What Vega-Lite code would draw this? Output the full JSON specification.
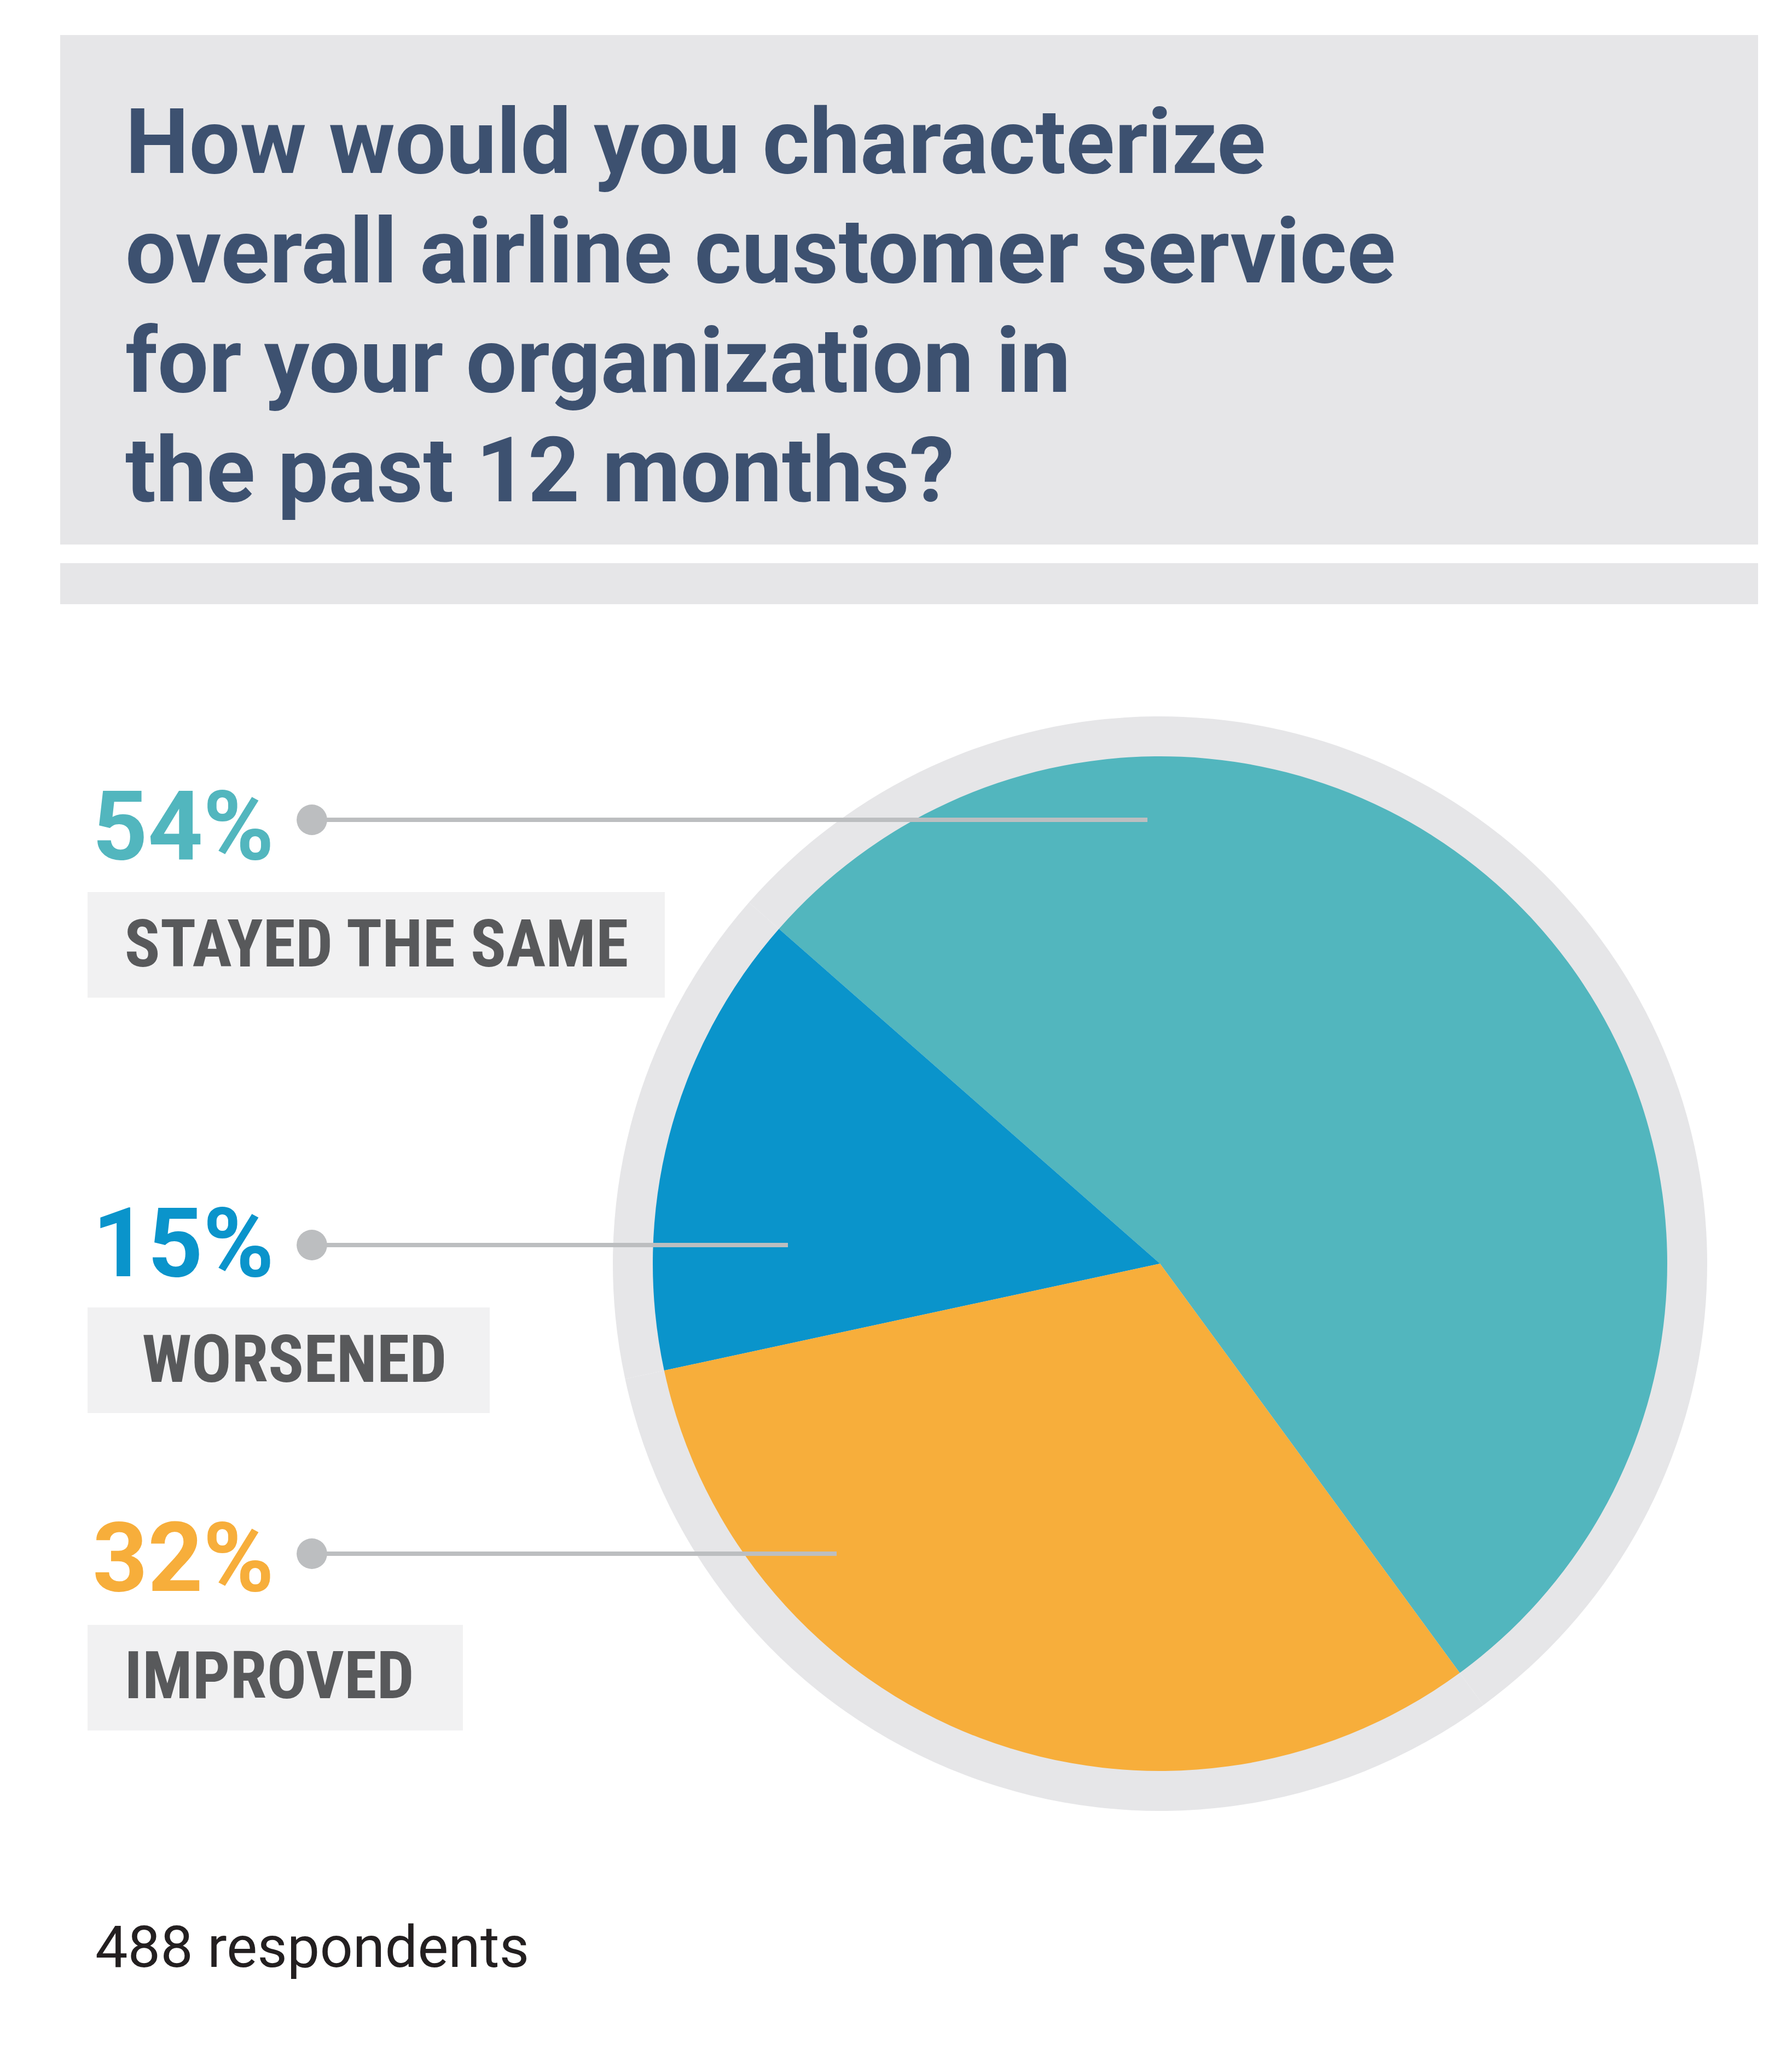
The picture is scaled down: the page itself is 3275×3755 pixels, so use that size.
{
  "$schema": "https://vega.github.io/schema/vega-lite/v6.json",
  "width": 3103,
  "height": 2892,
  "autosize": {"type": "none"},
  "padding": {"left": 110, "right": 62, "top": 863, "bottom": 0},
  "background": "#ffffff",
  "config": {"view": {"stroke": null}},
  "datasets": {
    "answers": [
      {"answer": "Stayed the same", "label": "STAYED THE SAME", "share": 0.54},
      {"answer": "Worsened", "label": "WORSENED", "share": 0.15},
      {"answer": "Improved", "label": "IMPROVED", "share": 0.32}
    ],
    "question": [
      {"line": 1, "text": "How would you characterize"},
      {"line": 2, "text": "overall airline customer service"},
      {"line": 3, "text": "for your organization in"},
      {"line": 4, "text": "the past 12 months?"}
    ],
    "sample": [{"respondents": 488, "note": "488 respondents"}]
  },
  "layer": [
    {
      "data": {"name": "question"},
      "mark": {"type": "rule", "strokeWidth": 234, "color": "#E6E6E8"},
      "encoding": {
        "y": {"field": "line", "type": "quantitative", "scale": {"domain": [1, 4], "range": [-681.9, 14.9], "nice": false, "zero": false}, "axis": null}
      }
    },
    {
      "data": {"name": "question"},
      "transform": [{"filter": {"field": "line", "equal": 4}}],
      "mark": {"type": "rule", "strokeWidth": 75, "color": "#E6E6E8"},
      "encoding": {
        "y": {"field": "line", "type": "quantitative", "scale": {"domain": [1, 4], "range": [-396.5, 203.5], "nice": false, "zero": false}, "axis": null}
      }
    },
    {
      "data": {"name": "question"},
      "mark": {"type": "text", "align": "left", "baseline": "alphabetic", "font": "Roboto, sans-serif", "fontWeight": "bold", "fontSize": 165, "color": "#3D5170"},
      "encoding": {
        "x": {"field": "line", "type": "quantitative", "scale": {"domain": [1, 4], "range": [119, 119]}, "axis": null},
        "y": {"field": "line", "type": "quantitative", "scale": {"domain": [1, 4], "range": [-547, 53], "nice": false, "zero": false}, "axis": null},
        "text": {"field": "text", "type": "nominal"}
      }
    },
    {
      "data": {"name": "answers"},
      "mark": {"type": "arc", "radius": 1000, "color": "#E6E6E8"},
      "encoding": {
        "theta": {"field": "share", "type": "quantitative", "stack": true, "scale": {"range": [5.4332, 11.7164]}},
        "order": {"field": "share", "type": "quantitative", "sort": "descending"},
        "x": {"field": "answer", "type": "nominal", "scale": {"type": "point", "range": [2010, 2010]}, "axis": null}
      }
    },
    {
      "data": {"name": "answers"},
      "mark": {"type": "arc", "radius": 927},
      "encoding": {
        "theta": {"field": "share", "type": "quantitative", "stack": true, "scale": {"range": [5.4332, 11.7164]}},
        "order": {"field": "share", "type": "quantitative", "sort": "descending"},
        "x": {"field": "answer", "type": "nominal", "scale": {"type": "point", "range": [2010, 2010]}, "axis": null},
        "color": {"field": "answer", "type": "nominal", "scale": {"domain": ["Stayed the same", "Worsened", "Improved"], "range": ["#52B6BE", "#0A94CB", "#F7AE3B"]}, "legend": null}
      }
    },
    {
      "data": {"name": "answers"},
      "mark": {"type": "rule", "strokeWidth": 193, "color": "#F1F1F2"},
      "encoding": {
        "x": {"field": "share", "type": "quantitative", "scale": {"domain": [0, 0.15, 0.32, 0.54], "range": [50, 785, 736, 1105], "nice": false, "zero": false}, "axis": null},
        "x2": {"datum": 0},
        "y": {"field": "share", "type": "quantitative", "scale": {"domain": [0.15, 0.32, 0.54], "range": [1622.5, 2202.5, 863.5], "nice": false, "zero": false}, "axis": null}
      }
    },
    {
      "data": {"name": "answers"},
      "mark": {"type": "text", "align": "center", "baseline": "alphabetic", "font": "'Roboto Condensed', 'Liberation Sans Narrow', 'DejaVu Sans Condensed', sans-serif", "fontWeight": "bold", "fontSize": 121, "color": "#58595B"},
      "encoding": {
        "x": {"field": "share", "type": "quantitative", "scale": {"domain": [0.15, 0.32, 0.54], "range": [428, 382, 578], "nice": false, "zero": false}, "axis": null},
        "y": {"field": "share", "type": "quantitative", "scale": {"domain": [0.15, 0.32, 0.54], "range": [1662, 2240, 903], "nice": false, "zero": false}, "axis": null},
        "text": {"field": "label", "type": "nominal"}
      }
    },
    {
      "data": {"name": "answers"},
      "mark": {"type": "rule", "strokeWidth": 8, "color": "#BCBEC0"},
      "encoding": {
        "x": {"field": "share", "type": "quantitative", "scale": {"domain": [0, 0.15, 0.32, 0.54], "range": [460, 1330, 1419, 1987], "nice": false, "zero": false}, "axis": null},
        "x2": {"datum": 0},
        "y": {"field": "share", "type": "quantitative", "scale": {"domain": [0.15, 0.32, 0.54], "range": [1412, 1976, 635], "nice": false, "zero": false}, "axis": null}
      }
    },
    {
      "data": {"name": "answers"},
      "mark": {"type": "circle", "size": 3117, "color": "#BCBEC0", "opacity": 1},
      "encoding": {
        "x": {"field": "share", "type": "quantitative", "scale": {"domain": [0.15, 0.54], "range": [460, 460]}, "axis": null},
        "y": {"field": "share", "type": "quantitative", "scale": {"domain": [0.15, 0.32, 0.54], "range": [1412, 1976, 635], "nice": false, "zero": false}, "axis": null}
      }
    },
    {
      "data": {"name": "answers"},
      "mark": {"type": "text", "align": "right", "baseline": "alphabetic", "font": "Roboto, sans-serif", "fontWeight": "bold", "fontSize": 176},
      "encoding": {
        "x": {"field": "share", "type": "quantitative", "scale": {"domain": [0.15, 0.54], "range": [391, 391]}, "axis": null},
        "y": {"field": "share", "type": "quantitative", "scale": {"domain": [0.15, 0.32, 0.54], "range": [1469, 2044, 707], "nice": false, "zero": false}, "axis": null},
        "text": {"field": "share", "type": "quantitative", "format": ".0%"},
        "color": {"field": "answer", "type": "nominal", "scale": {"domain": ["Stayed the same", "Worsened", "Improved"], "range": ["#52B6BE", "#0A94CB", "#F7AE3B"]}, "legend": null}
      }
    },
    {
      "data": {"name": "sample"},
      "mark": {"type": "text", "align": "left", "baseline": "alphabetic", "font": "Roboto, sans-serif", "fontSize": 106, "color": "#231F20"},
      "encoding": {
        "x": {"field": "respondents", "type": "quantitative", "scale": {"domain": [0, 488], "range": [64, 64]}, "axis": null},
        "y": {"field": "respondents", "type": "quantitative", "scale": {"domain": [0, 488], "range": [2731, 2731]}, "axis": null},
        "text": {"field": "note", "type": "nominal"}
      }
    }
  ],
  "resolve": {"scale": {"x": "independent", "y": "independent", "theta": "independent"}}
}
